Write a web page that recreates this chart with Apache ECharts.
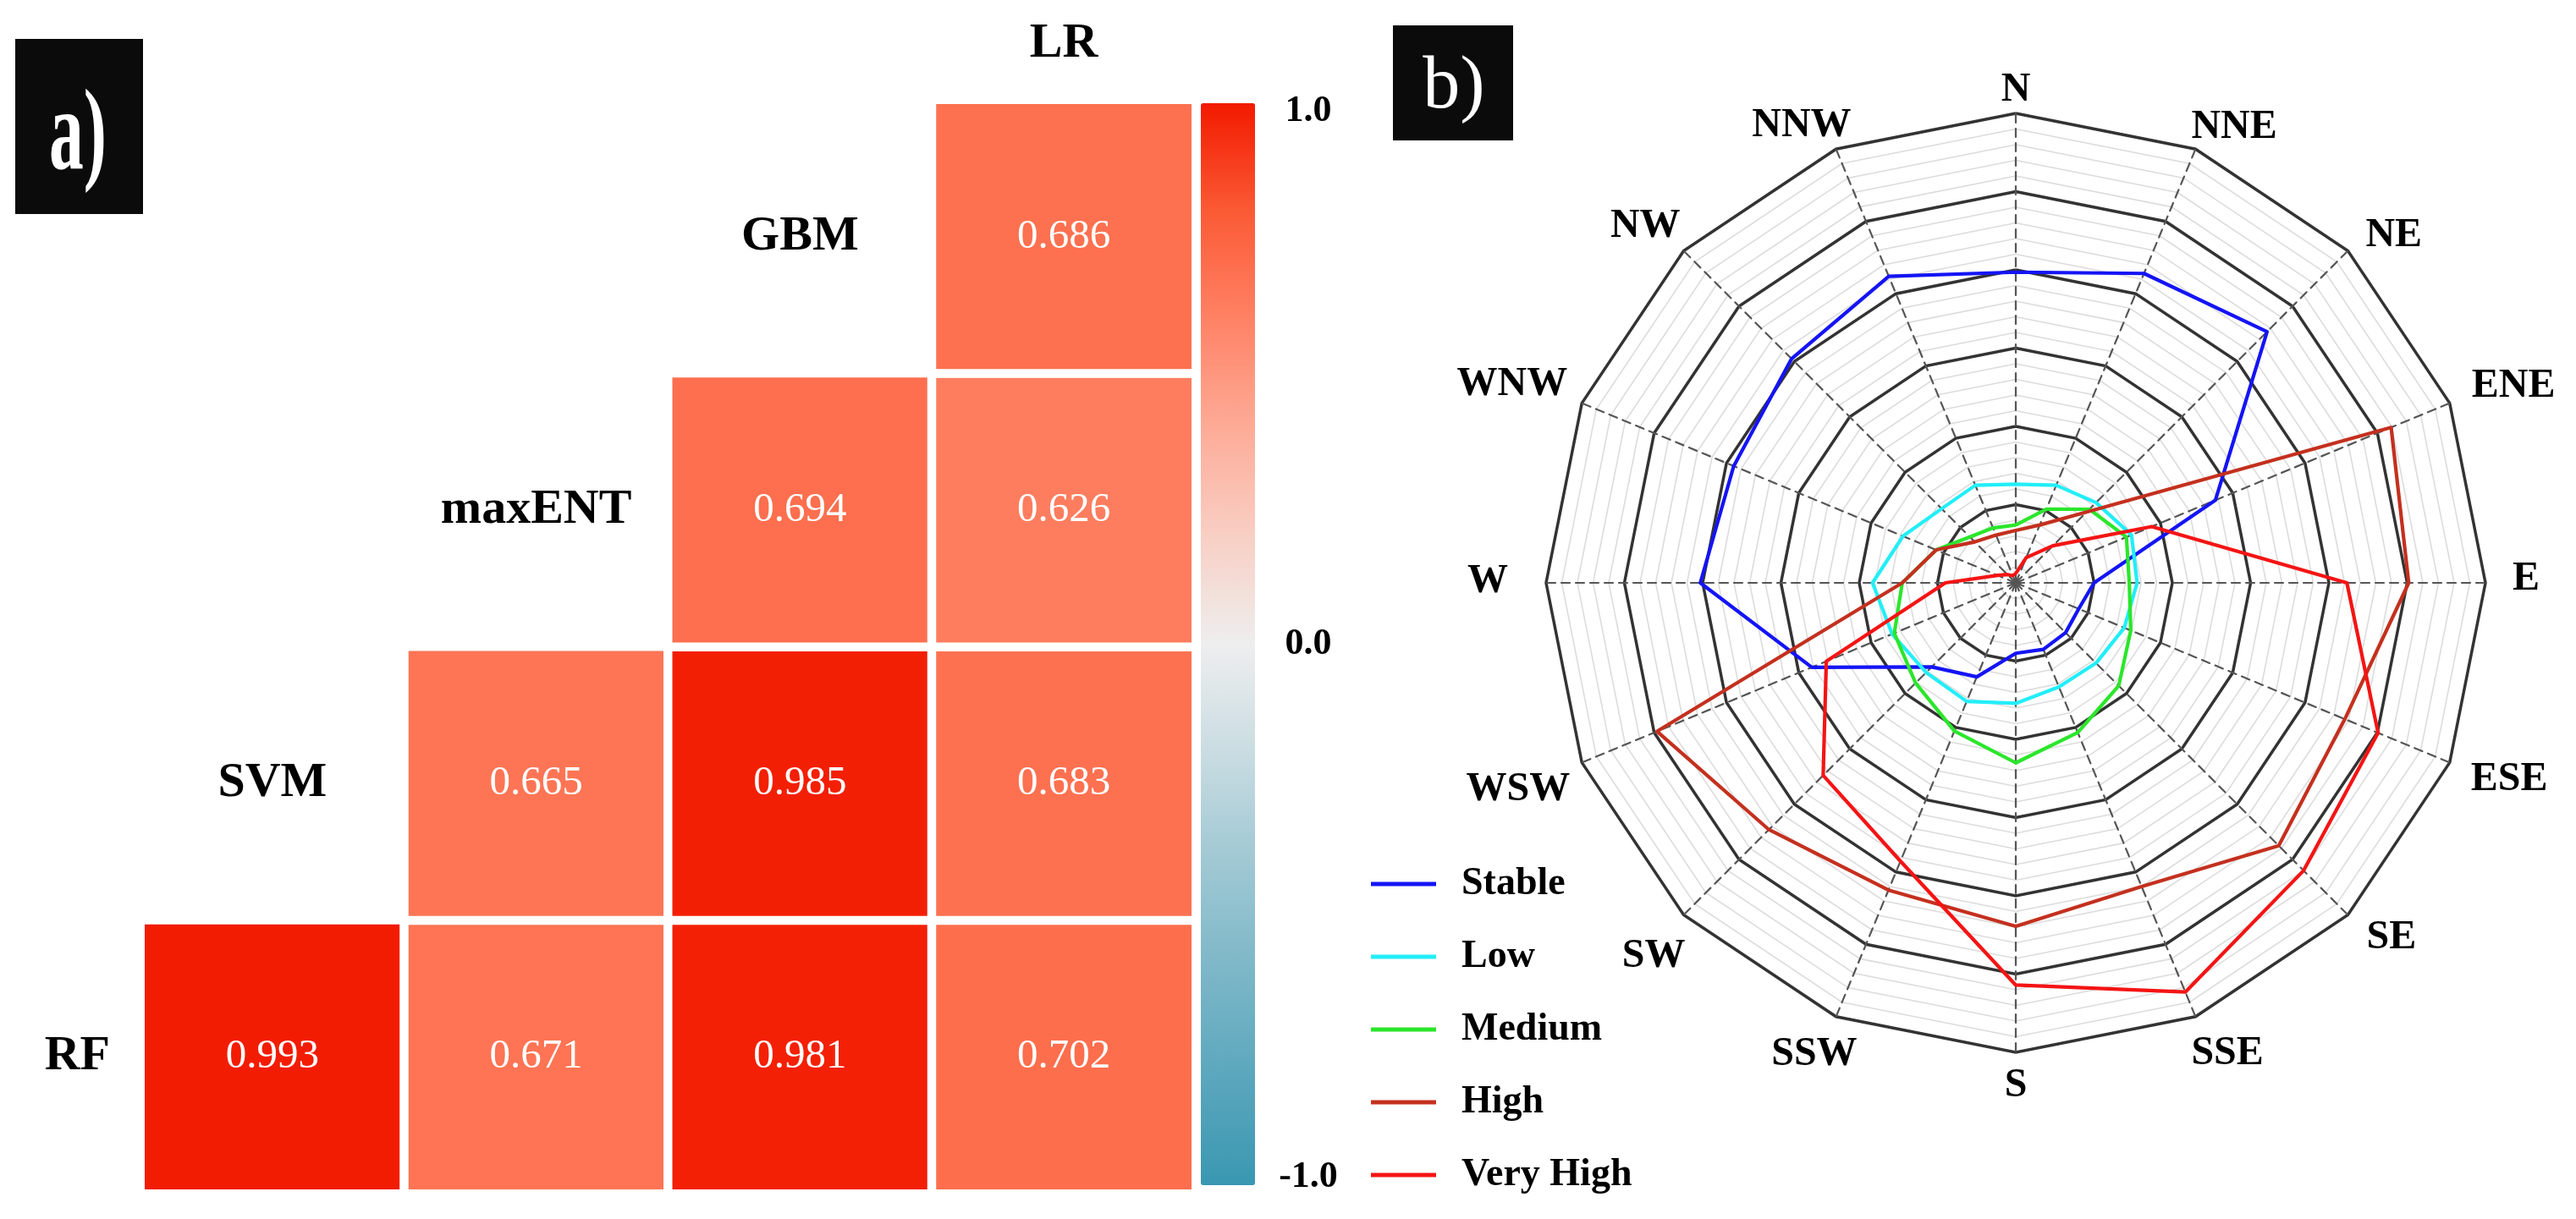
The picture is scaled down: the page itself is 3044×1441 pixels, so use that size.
<!DOCTYPE html>
<html><head><meta charset="utf-8">
<script src="https://cdn.jsdelivr.net/npm/echarts@6/dist/echarts.min.js"></script>
<style>html,body{margin:0;padding:0;background:#fff}#c{width:3044px;height:1441px}</style>
</head><body><div id="c"></div>
<script>
// ---------- panel a) correlation matrix ----------
const xModels = ['SVM', 'maxENT', 'GBM', 'LR'];
const yModels = ['RF', 'SVM', 'maxENT', 'GBM'];
const corrRF = [0.993, 0.671, 0.981, 0.702];   // vs SVM, maxENT, GBM, LR
const corrSVM = [0.665, 0.985, 0.683];         // vs maxENT, GBM, LR
const corrMaxENT = [0.694, 0.626];             // vs GBM, LR
const corrGBM = [0.686];                       // vs LR
const colorbarMin = -1, colorbarMax = 1, colorbarStep = 1;

// ---------- panel b) radar (clockwise from N) ----------
const directions = ['N','NNE','NE','ENE','E','ESE','SE','SSE','S','SSW','SW','WSW','W','WNW','NW','NNW'];
const stable   = [39.7, 42.8, 45.4, 27.6, 10.0, 8.7, 9.0, 9.2, 9.0, 13.0, 15.2, 28.2, 40.3, 39.0, 40.5, 42.4];
const low      = [12.6, 13.5, 14.5, 16.0, 15.5, 15.0, 14.5, 14.4, 15.4, 16.4, 16.2, 17.1, 18.3, 15.6, 13.4, 13.5];
const medium   = [7.4, 10.2, 13.3, 15.3, 14.5, 15.9, 18.6, 20.7, 23.0, 20.5, 18.1, 16.8, 14.5, 11.0, 8.3, 7.6];
const high     = [6.7, 8.0, 12.8, 51.9, 50.2, 45.5, 47.5, 42.0, 43.9, 42.5, 44.6, 49.6, 14.5, 11.0, 7.4, 6.6];
const veryHigh = [1.2, 3.5, 6.7, 18.8, 42.3, 50.1, 52.0, 56.6, 51.4, 38.5, 34.8, 26.2, 9.0, 2.5, 1.5, 1.0];
const classNames = ['Stable', 'Low', 'Medium', 'High', 'Very High'];
const radarMax = 60;

const FONT = 'Liberation Serif';

// heatmap data
const rows = [corrRF, corrSVM, corrMaxENT, corrGBM];
const heatData = [];
const diagData = [];
rows.forEach((row, r) => {
  const off = xModels.length - row.length;
  row.forEach((v, i) => heatData.push([off + i, r, v]));
  if (off > 0) diagData.push({ value: [off - 1, r], name: yModels[r] });
});

// radar goes counter-clockwise in ECharts: reorder
const ccw = a => [a[0]].concat(a.slice(1).reverse());
const indicators = ccw(directions).map(n => ({ name: n, min: 0, max: radarMax }));
const seriesCols = ['#1414F5', '#22EEF8', '#2BE62B', '#C4301E', '#F41414'];
const seriesVals = [stable, low, medium, high, veryHigh];

// direction-label placement (style): extra shift [dx, dy] in px for each label
const NAME_GAP = -70;
const labelShift = { N:[0,-3], NNE:[-5,-26], NE:[21,-18], ENE:[26,-20], E:[32,-4], ESE:[25,20],
  SE:[22,27], SSE:[-5,44], S:[0,16], SSW:[25,45], SW:[2,49], WSW:[-14,32], W:[-45,-1],
  WNW:[-17,-22], NW:[-4,-29], NNW:[18,-28] };
const nameRich = {};
directions.forEach((d, k) => {
  const th = k * Math.PI / 8, s = Math.sin(th), c = Math.cos(th);
  const sh = labelShift[d];
  const sx = sh[0] - NAME_GAP * s, sy = sh[1] + NAME_GAP * c;
  let pt = 0, pr = 0, pb = 0, pl = 0;
  if (k === 0) { pb = Math.max(0, -sy); }
  else if (k === 8) { pt = Math.max(0, sy); }
  else {
    if (sy > 0) pt = 2 * sy; else pb = -2 * sy;
    if (s > 0) pl = Math.max(0, sx); else pr = Math.max(0, -sx);
  }
  nameRich[d] = { fontFamily: FONT, fontWeight: 'bold', fontSize: 48, color: '#000',
                  padding: [pt, pr, pb, pl] };
});

const radarBase = {
  center: [2382, 689], radius: 555, startAngle: 90, shape: 'polygon',
  indicator: indicators, splitArea: { show: false },
  axisTick: { show: false }, axisLabel: { show: false }
};

const option = {
  animation: false,
  backgroundColor: '#fff',
  textStyle: { fontFamily: FONT },
  grid: [
    { left: 166, top: 118, width: 1247, height: 1293 },
    { left: 1483, top: 132, width: 1, height: 1260 }
  ],
  xAxis: [
    { type: 'category', data: xModels, position: 'top', gridIndex: 0,
      axisLine: { show: false }, axisTick: { show: false }, splitLine: { show: false },
      axisLabel: { formatter: v => (v === 'LR' ? v : ''), margin: 37, color: '#000',
        fontFamily: FONT, fontWeight: 'bold', fontSize: 58 } },
    { type: 'value', gridIndex: 1, show: false, min: 0, max: 1 }
  ],
  yAxis: [
    { type: 'category', data: yModels, gridIndex: 0,
      axisLine: { show: false }, axisTick: { show: false }, splitLine: { show: false },
      axisLabel: { formatter: v => (v === 'RF' ? v : ''), margin: 36, color: '#000',
        fontFamily: FONT, fontWeight: 'bold', fontSize: 58 } },
    { type: 'value', gridIndex: 1, position: 'right', min: colorbarMin, max: colorbarMax, interval: colorbarStep,
      axisLine: { show: false }, axisTick: { show: false }, splitLine: { show: false },
      axisLabel: { formatter: v => v.toFixed(1), margin: 62, align: 'center', color: '#000',
        fontFamily: FONT, fontWeight: 'bold', fontSize: 44 } }
  ],
  visualMap: {
    type: 'continuous', min: colorbarMin, max: colorbarMax, seriesIndex: 0,
    calculable: false, orient: 'vertical', left: 1419, top: 122, padding: 0,
    itemWidth: 64, itemHeight: 1279,
    inRange: { color: ['#3A97B1', '#5BA7BD', '#7DB7C8', '#A0C8D3', '#C9DCE2', '#EEEEEE',
                       '#F8CFC4', '#FDAB97', '#FF8265', '#FB5A35', '#F21A00'] }
  },
  radar: [
    Object.assign({}, radarBase, {
      splitNumber: 30, silent: true,
      axisName: { show: false }, axisLine: { show: false },
      splitLine: { lineStyle: { color: '#dcdcdc', width: 1.6 } }
    }),
    Object.assign({}, radarBase, {
      splitNumber: 6, nameGap: NAME_GAP,
      axisName: { color: '#000', fontFamily: FONT, fontWeight: 'bold', fontSize: 48,
                  formatter: n => '{' + n + '|' + n + '}', rich: nameRich },
      axisLine: { lineStyle: { color: '#555', width: 2.2, type: [10, 7] } },
      splitLine: { lineStyle: { color: '#333', width: 3.5 } }
    })
  ],
  legend: {
    orient: 'vertical', left: 1615, top: 1017, icon: 'rect',
    itemWidth: 77, itemHeight: 5, itemGap: 40,
    data: classNames,
    textStyle: { fontFamily: FONT, fontWeight: 'bold', fontSize: 46, color: '#000',
                 padding: [0, 0, 0, 25] }
  },
  graphic: [
    { type: 'rect', left: 18, top: 46, shape: { width: 151, height: 207 }, style: { fill: '#0b0b0b' } },
    { type: 'text', x: 92, y: 164, scaleX: 0.6, style: { text: 'a)', fill: '#fff', font: 'bold 136px "Liberation Serif"',
      textAlign: 'center', textVerticalAlign: 'middle' } },
    { type: 'rect', left: 1646, top: 30, shape: { width: 142, height: 136 }, style: { fill: '#0b0b0b' } },
    { type: 'text', x: 1718, y: 104, style: { text: 'b)', fill: '#fff', font: '88px "Liberation Serif"',
      textAlign: 'center', textVerticalAlign: 'middle' } }
  ],
  series: [
    { type: 'heatmap', xAxisIndex: 0, yAxisIndex: 0, data: heatData,
      itemStyle: { borderColor: '#fff', borderWidth: 10.5 },
      label: { show: true, formatter: p => p.value[2].toFixed(3), color: '#fff',
               fontFamily: FONT, fontSize: 49 } },
    { type: 'scatter', xAxisIndex: 0, yAxisIndex: 0, data: diagData, symbolSize: 0,
      itemStyle: { opacity: 1 },
      label: { show: true, position: 'inside', formatter: p => p.name, color: '#000', opacity: 1,
               fontFamily: FONT, fontWeight: 'bold', fontSize: 58 } },
    { type: 'radar', radarIndex: 1, symbol: 'none',
      data: seriesVals.map((v, i) => ({
        name: classNames[i], value: ccw(v),
        lineStyle: { color: seriesCols[i], width: 4.2 },
        itemStyle: { color: seriesCols[i] }
      })) }
  ]
};
const chart = echarts.init(document.getElementById('c'), null, { renderer: 'canvas' });
chart.setOption(option);
</script></body></html>
